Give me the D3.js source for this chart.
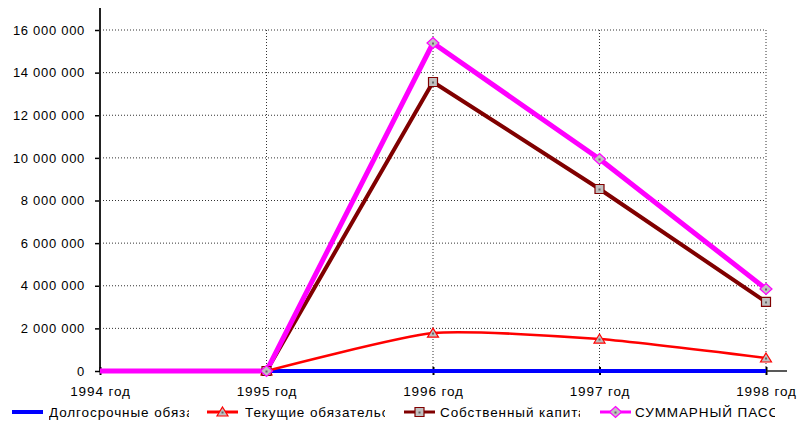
<!DOCTYPE html>
<html><head><meta charset="utf-8">
<script src="https://cdn.jsdelivr.net/npm/d3@7/dist/d3.min.js"></script>
<style>body{margin:0;background:#fff}svg{display:block}text{font-family:"Liberation Sans",Arial,sans-serif;font-size:13px;letter-spacing:0.7px;fill:#000}
.xl text{font-size:13.5px;letter-spacing:0.9px}.lg text{font-size:13.5px;letter-spacing:0.9px}</style>
</head><body>
<svg id="c" width="801" height="423"></svg>
<script>
const categories = ["1994 год","1995 год","1996 год","1997 год","1998 год"];
const seriesNames = ["Долгосрочные обязательства","Текущие обязательства","Собственный капитал","СУММАРНЫЙ ПАССИВ"];
const longTerm = [0, 0, 0, 0, 0];
const current = [0, 0, 1780000, 1500000, 610000];
const equity = [0, 0, 13560000, 8540000, 3240000];
const total = [0, 0, 15390000, 9950000, 3850000];
const yTicks = [0, 2000000, 4000000, 6000000, 8000000, 10000000, 12000000, 14000000, 16000000];

const svg = d3.select("#c");
const x = d3.scalePoint().domain(categories).range([100, 766]);
const y = d3.scaleLinear().domain([0, 16000000]).range([371, 30]);
const fmt = v => d3.format(",")(v).replace(/,/g, " ");

// grid
svg.append("g").selectAll("line").data(yTicks.filter(d => d > 0)).join("line")
  .attr("x1", 100).attr("x2", 766).attr("y1", d => y(d)).attr("y2", d => y(d))
  .attr("stroke", "#333").attr("stroke-width", 1).attr("stroke-dasharray", "1,2");
svg.append("g").selectAll("line").data(categories.slice(1)).join("line")
  .attr("x1", d => x(d)).attr("x2", d => x(d)).attr("y1", y(16000000)).attr("y2", y(0))
  .attr("stroke", "#333").attr("stroke-width", 1).attr("stroke-dasharray", "1,2");

// y axis
const ya = svg.append("g").attr("transform", "translate(100,0)")
  .call(d3.axisLeft(y).tickValues(yTicks).tickFormat(fmt).tickSize(5).tickPadding(10));
ya.select(".domain").remove();
ya.selectAll(".tick line").attr("stroke", "#000").attr("stroke-width", 1.5);
ya.selectAll("text").attr("font-family", null).attr("font-size", null).attr("fill", "#000");
svg.append("line").attr("x1", 100).attr("x2", 100).attr("y1", 8).attr("y2", 371).attr("stroke", "#222").attr("stroke-width", 2);

// x axis
const xa = svg.append("g").attr("class", "xl").attr("transform", "translate(0,371)")
  .call(d3.axisBottom(x).tickSize(4).tickPadding(11));
xa.select(".domain").remove();
xa.selectAll(".tick line").attr("stroke", "#000").attr("stroke-width", 2).attr("y1", -4);
xa.selectAll("text").attr("font-family", null).attr("font-size", null).attr("fill", "#000");
svg.append("line").attr("x1", 100).attr("x2", 787).attr("y1", 371).attr("y2", 371).attr("stroke", "#222").attr("stroke-width", 1.5);

const series = [
  {name: seriesNames[0], values: longTerm, color: "#0000FF", width: 4, marker: null, curve: d3.curveLinear},
  {name: seriesNames[1], values: current, color: "#FF0000", width: 2.5, marker: "triangle", curve: d3.curveCardinal.tension(0.4)},
  {name: seriesNames[2], values: equity, color: "#800000", width: 4, marker: "square", curve: d3.curveLinear},
  {name: seriesNames[3], values: total, color: "#FF00FF", width: 5, marker: "diamond", curve: d3.curveLinear}
];

const markerPath = {
  triangle: "M0,-5L5.5,4L-5.5,4Z",
  square: "M-4.5,-4.5H4.5V4.5H-4.5Z",
  diamond: "M0,-5.5L6,0L0,5.5L-6,0Z"
};

series.forEach(s => {
  const pts = categories.map((c, i) => ({c, v: s.values[i], i}));
  const startIdx = (s.marker === null || s.marker === "triangle") ? 1 : 0;
  svg.append("path").datum(pts.filter(p => p.i >= startIdx))
    .attr("fill", "none").attr("stroke", s.color).attr("stroke-width", s.width)
    .attr("stroke-linejoin", "round")
    .attr("d", d3.line().x(p => x(p.c)).y(p => y(p.v)).curve(s.curve));
});
series.forEach(s => {
  if (!s.marker) return;
  const pts = categories.map((c, i) => ({c, v: s.values[i], i})).filter(p => p.i > 0);
  const g = svg.append("g").selectAll("g").data(pts).join("g")
    .attr("transform", p => `translate(${x(p.c)},${y(p.v)})`);
  g.append("path").attr("d", markerPath[s.marker])
    .attr("fill", "#C0C0C0").attr("stroke", s.color).attr("stroke-width", 1.2);
  g.append("rect").attr("x", -1).attr("y", -0.5).attr("width", 2).attr("height", 2).attr("fill", "#666");
});

// legend
const legX = [12, 207, 404, 600];
const lg = svg.append("g").attr("class", "lg");
series.forEach((s, i) => {
  const x0 = legX[i];
  const cy = 412;
  lg.append("line").attr("x1", x0).attr("x2", x0 + 31).attr("y1", cy).attr("y2", cy)
    .attr("stroke", s.color).attr("stroke-width", s.marker ? 3 : 4);
  if (s.marker) {
    lg.append("path").attr("transform", `translate(${x0 + 15.5},${cy})`)
      .attr("d", markerPath[s.marker])
      .attr("fill", "#C0C0C0").attr("stroke", s.color).attr("stroke-width", 1.2);
    lg.append("rect").attr("x", x0 + 14.5).attr("y", cy - 0.5).attr("width", 2).attr("height", 2).attr("fill", "#666");
  }
  const tx = x0 + (i === 0 ? 37 : i === 1 ? 38 : i === 2 ? 36 : 35);
  const cid = "clip" + i;
  svg.append("clipPath").attr("id", cid).append("rect").attr("x", tx).attr("y", 400).attr("width", 140).attr("height", 23);
  lg.append("text").attr("x", tx).attr("y", cy + 5).attr("clip-path", `url(#${cid})`).text(s.name);
});
</script>
</body></html>
